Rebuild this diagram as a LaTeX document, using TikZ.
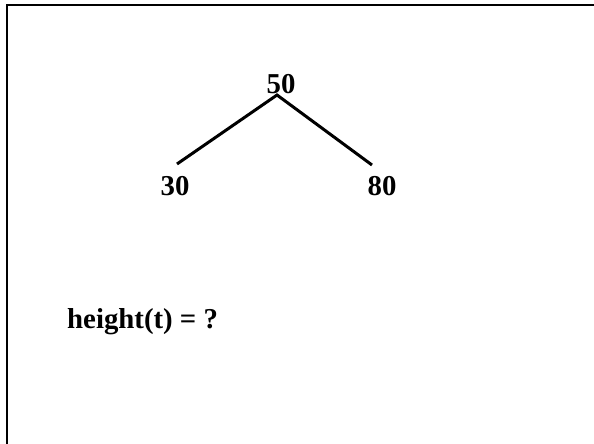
\documentclass[tikz,border=0pt]{standalone}
\usepackage{fontspec}
\setmainfont{Liberation Serif}
\begin{document}
\begin{tikzpicture}[x=1pt,y=1pt,
  lbl/.style={inner sep=0pt,font=\fontsize{28.8}{32}\selectfont\bfseries},
  edge/.style={line width=3pt,black}]
\useasboundingbox (0,0) rectangle (594,-444);
\draw[line width=2.2pt] (7,-444) -- (7,-5) -- (594,-5);
\node[lbl,anchor=base] (n50) at (281,-93) {50};
\node[lbl,anchor=base] (n30) at (175,-195) {30};
\node[lbl,anchor=base] (n80) at (382,-195) {80};
\node[lbl,anchor=base west] (h) at (67,-328) {height(t) = ?};
\coordinate (top) at (277,-95);
\coordinate (l) at (177,-164);
\coordinate (r) at (372,-165);
\draw[edge] (l) -- (top) -- (r);
\end{tikzpicture}
\end{document}
